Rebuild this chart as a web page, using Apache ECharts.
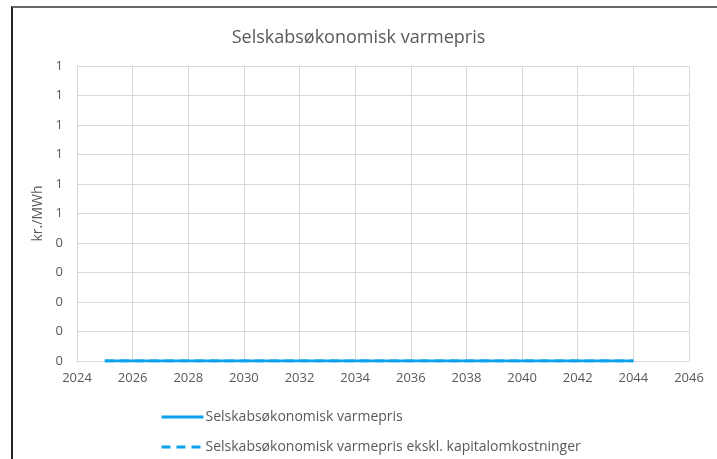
<!DOCTYPE html>
<html>
<head>
<meta charset="utf-8">
<script src="https://cdn.jsdelivr.net/npm/echarts@6/dist/echarts.min.js"></script>
<style>
  html, body { margin: 0; padding: 0; background: #fff; }
  #frame { position: absolute; left: 11px; top: 6px; width: 720px; height: 470px;
           border-left: 2px solid #222; border-top: 2px solid #666; box-sizing: border-box; }
  #main { position: absolute; left: 0; top: 0; width: 717px; height: 459px; }
</style>
</head>
<body>
<div id="frame"></div>
<div id="main"></div>
<script>
  // data
  var years = [2025, 2026, 2027, 2028, 2029, 2030, 2031, 2032, 2033, 2034,
               2035, 2036, 2037, 2038, 2039, 2040, 2041, 2042, 2043, 2044]
  var varmepris = [0, 0, 0, 0, 0, 0, 0, 0, 0, 0, 0, 0, 0, 0, 0, 0, 0, 0, 0, 0]
  var varmeprisEkskl = [0, 0, 0, 0, 0, 0, 0, 0, 0, 0, 0, 0, 0, 0, 0, 0, 0, 0, 0, 0]
  var seriesNames = ['Selskabsøkonomisk varmepris', 'Selskabsøkonomisk varmepris ekskl. kapitalomkostninger']

  var lineColor = '#0aa2ee'
  var textColor = '#595959'
  var font = 'Open Sans'

  function pairs(vals) {
    return years.map(function (y, i) { return [y, vals[i]] })
  }

  var chart = echarts.init(document.getElementById('main'), null, { renderer: 'canvas' })
  chart.setOption({
    backgroundColor: 'transparent',
    animation: false,
    title: {
      text: 'Selskabsøkonomisk varmepris',
      left: 'center',
      top: 24,
      textStyle: { fontFamily: font, fontSize: 18, fontWeight: 'normal', color: textColor }
    },
    grid: { left: 77, top: 66, width: 612, height: 295 },
    legend: {
      orient: 'vertical',
      left: 155,
      top: 405,
      itemWidth: 42,
      itemHeight: 14,
      itemGap: 16,
      itemStyle: { opacity: 0 },
      lineStyle: { width: 3 },
      textStyle: { fontFamily: font, fontSize: 14, color: textColor, padding: [0, 0, 0, -3] },
      data: seriesNames
    },
    xAxis: {
      type: 'value',
      min: 2024,
      max: 2046,
      interval: 2,
      axisLine: { show: true, lineStyle: { color: '#d9d9d9' } },
      axisTick: { show: false },
      splitLine: { show: true, lineStyle: { color: '#d9d9d9' } },
      axisLabel: {
        fontFamily: font, fontSize: 13, color: textColor, margin: 11,
        formatter: function (v) { return String(v) }
      }
    },
    yAxis: {
      type: 'value',
      min: 0,
      max: 1,
      interval: 0.1,
      name: 'kr./MWh',
      nameLocation: 'middle',
      nameGap: 27,
      nameTextStyle: { fontFamily: font, fontSize: 14, color: textColor },
      axisLine: { show: true, lineStyle: { color: '#d9d9d9' } },
      axisTick: { show: false },
      splitLine: { show: true, lineStyle: { color: '#d9d9d9' } },
      axisLabel: {
        fontFamily: font, fontSize: 13, color: textColor, margin: 14,
        formatter: function (v) { return Math.round(v).toFixed(0) }
      }
    },
    series: [
      {
        name: seriesNames[0],
        type: 'line',
        data: pairs(varmepris),
        symbol: 'none',
        lineStyle: { color: lineColor, width: 3 },
        itemStyle: { color: lineColor }
      },
      {
        name: seriesNames[1],
        type: 'line',
        data: pairs(varmeprisEkskl),
        symbol: 'none',
        lineStyle: { color: lineColor, width: 3, type: [9, 6] },
        itemStyle: { color: lineColor }
      }
    ]
  })
</script>
</body>
</html>
